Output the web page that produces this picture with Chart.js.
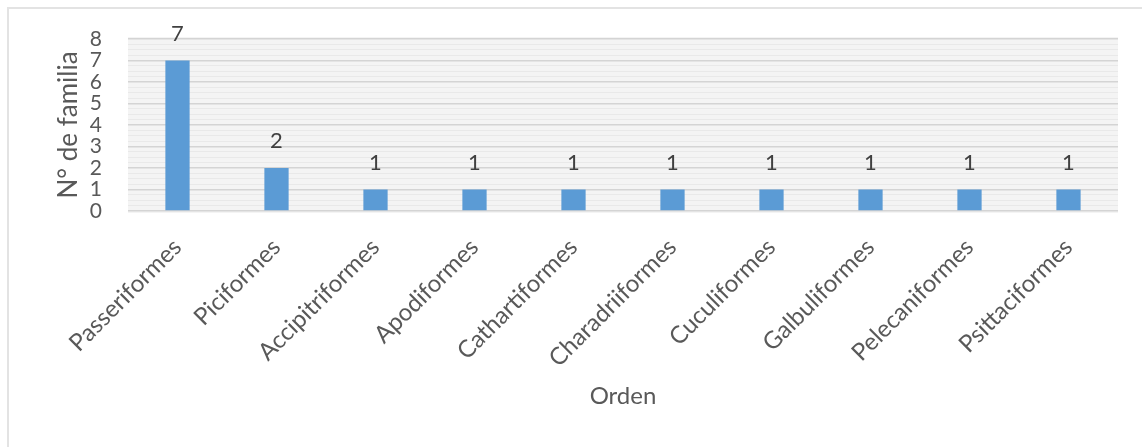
<!DOCTYPE html>
<html>
<head>
<meta charset="utf-8">
<script src="https://cdn.jsdelivr.net/npm/chart.js@4.4.1/dist/chart.umd.min.js"></script>
<style>
  body { margin: 0; background: #fff; }
  .frame { position: absolute; left: 7px; top: 7px; width: 1200px; height: 500px; border: 2px solid #e3e3e3; }
  #ordenChart { position: absolute; left: 0; top: 0; }
</style>
</head>
<body>
<div class="frame"></div>
<canvas id="ordenChart" width="1142" height="447"></canvas>
<script>
const ordenes = ['Passeriformes', 'Piciformes', 'Accipitriformes', 'Apodiformes', 'Cathartiformes',
  'Charadriiformes', 'Cuculiformes', 'Galbuliformes', 'Pelecaniformes', 'Psittaciformes'];
const familias = [7, 2, 1, 1, 1, 1, 1, 1, 1, 1];
const yTicks = [0, 1, 2, 3, 4, 5, 6, 7, 8];

const fontFamily = 'Lato, "Open Sans", sans-serif';

// light grey plot background like the excel export
const plotBackground = {
  id: 'plotBackground',
  beforeDraw(chart) {
    const { ctx, chartArea } = chart;
    ctx.save();
    ctx.fillStyle = '#f4f4f4';
    ctx.fillRect(chartArea.left, chartArea.top - 2, chartArea.right - chartArea.left, chartArea.bottom - chartArea.top + 4);
    ctx.restore();
  }
};

// value labels above each bar
const barValues = {
  id: 'barValues',
  afterDatasetsDraw(chart) {
    const { ctx } = chart;
    const meta = chart.getDatasetMeta(0);
    ctx.save();
    ctx.font = '22px ' + fontFamily;
    ctx.fillStyle = '#404040';
    ctx.textAlign = 'center';
    ctx.textBaseline = 'bottom';
    meta.data.forEach((bar, i) => {
      ctx.fillText(familias[i], bar.x, bar.y - 16);
    });
    ctx.restore();
  }
};

new Chart(document.getElementById('ordenChart'), {
  type: 'bar',
  data: {
    labels: ordenes,
    datasets: [{
      data: familias,
      backgroundColor: '#5b9bd5',
      barPercentage: 0.245,
      categoryPercentage: 1,
    }],
  },
  options: {
    responsive: false,
    animation: false,
    layout: {
      padding: { left: 50, right: 24, top: 39, bottom: 30 },
    },
    plugins: {
      legend: { display: false },
      tooltip: { enabled: false },
    },
    scales: {
      x: {
        grid: { display: false, drawTicks: false },
        border: { display: false },
        ticks: {
          minRotation: 45,
          maxRotation: 45,
          autoSkip: false,
          padding: 22,
          color: '#595959',
          font: { family: fontFamily, size: 24 },
        },
        title: {
          display: true,
          text: 'Orden',
          color: '#595959',
          padding: { top: 0, bottom: 6 },
          font: { family: fontFamily, size: 24 },
        },
        afterFit(scale) { scale.height = 447 - 30 - 211; },
      },
      y: {
        min: 0,
        max: 8,
        border: { display: false },
        grid: {
          drawTicks: false,
          color: ctx => Number.isInteger(ctx.tick.value) ? '#d4d4d4' : '#e9e9e9',
          lineWidth: ctx => Number.isInteger(ctx.tick.value) ? 1.5 : 1,
        },
        ticks: {
          stepSize: 0.25,
          autoSkip: false,
          padding: 26,
          color: '#595959',
          font: { family: fontFamily, size: 21 },
          callback: v => yTicks.includes(v) ? v : '',
        },
        title: {
          display: true,
          text: 'N° de familia',
          color: '#595959',
          padding: { top: 3, bottom: 0 },
          font: { family: fontFamily, size: 26 },
        },
        afterFit(scale) { scale.width = 78; },
      },
    },
  },
  plugins: [plotBackground, barValues],
});
</script>
</body>
</html>
